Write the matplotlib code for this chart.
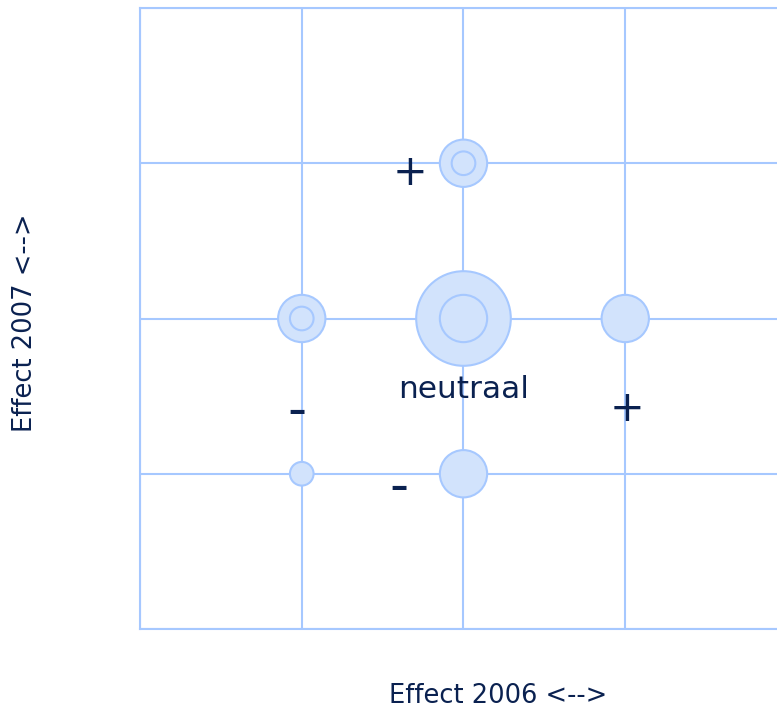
import matplotlib
matplotlib.use("Agg")
import matplotlib.pyplot as plt

# bubble positions (effect 2006, effect 2007) and sizes
bx = [0, -1, 0, 1, -1, 0]
by = [1, 0, 0, 0, -1, -1]
outer = [4, 4, 16, 4, 1, 4]
inner = [1, 1, 4, 0, 0, 0]

labels = ["+", "neutraal", "-", "+", "-"]
lab_x = [-0.33, 0.0, -1.03, 1.01, -0.40]
lab_y = [0.94, -0.46, -0.60, -0.58, -1.09]
lab_size = [30, 22.5, 38, 30, 38]

line_col = "#a6c8ff"
fill_col = "#d2e3fc"
text_col = "#0a2150"

base = 290  # scatter area (pt^2) for size 1

fig = plt.figure(figsize=(7.77, 7.08), dpi=100)
ax = fig.add_axes([140 / 777, 79 / 708, 647 / 777, 621 / 708])
ax.set_xlim(-2, 2)
ax.set_ylim(-2, 2)
ax.set_xticks([-2, -1, 0, 1, 2])
ax.set_yticks([-2, -1, 0, 1, 2])
ax.tick_params(length=0, labelleft=False, labelbottom=False)
ax.grid(True, color=line_col, linewidth=1.5)
ax.set_axisbelow(True)
for s in ax.spines.values():
    s.set_color(line_col)
    s.set_linewidth(1.5)

ax.scatter(bx, by, s=[v * base for v in outer], color=fill_col,
           edgecolor=line_col, linewidth=1.5, zorder=3, clip_on=False)
ix = [x for x, v in zip(bx, inner) if v > 0]
iy = [y for y, v in zip(by, inner) if v > 0]
ax.scatter(ix, iy, s=[v * base for v in inner if v > 0], color=fill_col,
           edgecolor=line_col, linewidth=1.5, zorder=4)

for t, x, y, fs in zip(labels, lab_x, lab_y, lab_size):
    ax.text(x, y, t, ha="center", va="center", fontsize=fs,
            color=text_col, zorder=5)

fig.text(498 / 777, 1 - 696 / 708, "Effect 2006 <-->", ha="center", va="center",
         fontsize=18.5, color=text_col)
fig.text(25 / 777, 1 - 323 / 708, "Effect 2007 <-->", ha="center", va="center",
         fontsize=18.5, color=text_col, rotation=90)

fig.savefig("out.png", dpi=100)
